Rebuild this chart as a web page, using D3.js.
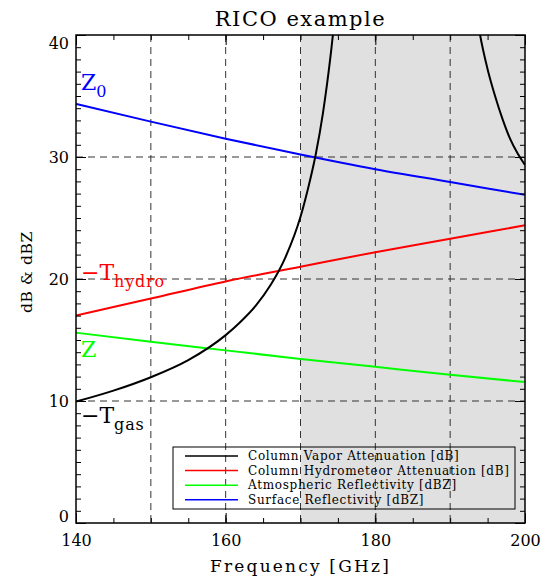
<!DOCTYPE html>
<html>
<head>
<meta charset="utf-8">
<script src="https://cdn.jsdelivr.net/npm/d3@7"></script>
<style>
  html, body { margin: 0; padding: 0; background: #fff; }
  svg { display: block; }
  text { font-family: "DejaVu Serif", serif; }
</style>
</head>
<body>
<svg id="chart" width="548" height="578"></svg>
<script>
// RICO case: column attenuation and reflectivity vs. radar frequency
const freqs = [140, 150, 160, 170, 180, 190, 200];
const surfaceReflectivity = [34.35, 32.9, 31.5, 30.2, 29.0, 27.95, 26.9];   // Z0 [dBZ]
const hydroAttenuation    = [17.0, 18.4, 19.8, 21.0, 22.2, 23.3, 24.4];     // -T_hydro [dB]
const atmosReflectivity   = [15.6, 14.85, 14.15, 13.45, 12.8, 12.15, 11.55]; // Z [dBZ]

// Column vapour attenuation, two branches around the 183 GHz water line
const vaporFreqLow  = [140, 145, 150, 155, 160, 162, 164, 166, 168, 170, 171, 172, 173, 174, 175];
const vaporAttLow   = [9.95, 10.85, 11.95, 13.35, 15.4, 16.5, 17.8, 19.5, 21.8, 25.1, 27.4, 30.1, 33.6, 38.2, 44];
const vaporFreqHigh = [192, 193, 194, 195, 196, 197, 198, 199, 200];
const vaporAttHigh  = [48, 44, 40, 37.2, 35.0, 33.1, 31.5, 30.3, 29.35];

const xTickLabels = [140, 160, 180, 200];
const yTickLabels = [0, 10, 20, 30, 40];
const xGrid = [150, 160, 170, 180, 190];
const yGrid = [10, 20, 30];
const shadedBand = [170, 200];

const legendItems = [
  { label: "Column Vapor Attenuation [dB]", color: "#000000" },
  { label: "Column Hydrometeor Attenuation [dB]", color: "#ff0000" },
  { label: "Atmospheric Reflectivity [dBZ]", color: "#00ff00" },
  { label: "Surface Reflectivity [dBZ]", color: "#0000ff" }
];

const svg = d3.select("#chart");
const L = 76, R = 525, T = 35, B = 523;

const x = d3.scaleLinear().domain([140, 200]).range([L, R]);
const y = d3.scaleLinear().domain([0, 40]).range([B, T]);

// shaded frequency band
svg.append("rect")
  .attr("x", x(shadedBand[0])).attr("y", T)
  .attr("width", x(shadedBand[1]) - x(shadedBand[0]))
  .attr("height", B - T)
  .attr("fill", "#e0e0e0");

// dashed grid
const grid = svg.append("g").attr("stroke", "#333").attr("stroke-width", 1)
  .attr("stroke-dasharray", "7,5");
grid.selectAll("line.v").data(xGrid).join("line")
  .attr("x1", d => x(d)).attr("x2", d => x(d)).attr("y1", T).attr("y2", B);
grid.selectAll("line.h").data(yGrid).join("line")
  .attr("y1", d => y(d)).attr("y2", d => y(d)).attr("x1", L).attr("x2", R);

// curves
svg.append("defs").append("clipPath").attr("id", "plotclip")
  .append("rect").attr("x", L).attr("y", T).attr("width", R - L).attr("height", B - T);

const line = d3.line().x(d => x(d[0])).y(d => y(d[1])).curve(d3.curveMonotoneX);
const curves = svg.append("g").attr("clip-path", "url(#plotclip)")
  .attr("fill", "none").attr("stroke-width", 2);

function series(xs, ys) { return xs.map((f, i) => [f, ys[i]]); }

curves.append("path").attr("d", line(series(freqs, atmosReflectivity))).attr("stroke", "#00ff00");
curves.append("path").attr("d", line(series(freqs, hydroAttenuation))).attr("stroke", "#ff0000");
curves.append("path").attr("d", line(series(freqs, surfaceReflectivity))).attr("stroke", "#0000ff");
curves.append("path").attr("d", line(series(vaporFreqLow, vaporAttLow))).attr("stroke", "#000");
curves.append("path").attr("d", line(series(vaporFreqHigh, vaporAttHigh))).attr("stroke", "#000");

// axes: minor and major ticks on all four sides
function ticks(axisFn, scale, values, size, transform) {
  const g = svg.append("g").attr("transform", transform)
    .call(axisFn(scale).tickValues(values).tickSize(size).tickFormat(""));
  g.select(".domain").remove();
  g.selectAll("line").attr("stroke", "#000").attr("stroke-width", 1);
  return g;
}
const xMinor = d3.range(140, 200.1, 5);
const yMinor = d3.range(0, 40.1, 1);
ticks(d3.axisTop, x, xMinor, 5, `translate(0,${B})`);
ticks(d3.axisBottom, x, xMinor, 5, `translate(0,${T})`);
ticks(d3.axisTop, x, xTickLabels, 10, `translate(0,${B})`);
ticks(d3.axisBottom, x, xTickLabels, 10, `translate(0,${T})`);
ticks(d3.axisRight, y, yMinor, 5, `translate(${L},0)`);
ticks(d3.axisLeft, y, yMinor, 5, `translate(${R},0)`);
ticks(d3.axisRight, y, yTickLabels, 10, `translate(${L},0)`);
ticks(d3.axisLeft, y, yTickLabels, 10, `translate(${R},0)`);

// frame
svg.append("rect").attr("x", L).attr("y", T).attr("width", R - L).attr("height", B - T)
  .attr("fill", "none").attr("stroke", "#000").attr("stroke-width", 1.5);

// tick labels
const xAxis = svg.append("g").attr("transform", `translate(0,${B})`)
  .call(d3.axisBottom(x).tickValues(xTickLabels).tickSize(0).tickPadding(12).tickFormat(d3.format("d")));
xAxis.select(".domain").remove();
xAxis.selectAll("text").attr("font-family", "DejaVu Serif").attr("font-size", 16).attr("fill", "#000");

const yAxis = svg.append("g").attr("transform", `translate(${L},0)`)
  .call(d3.axisLeft(y).tickValues(yTickLabels).tickSize(0).tickPadding(7).tickFormat(d3.format("d")));
yAxis.select(".domain").remove();
yAxis.selectAll("text").attr("font-family", "DejaVu Serif").attr("font-size", 16).attr("fill", "#000")
  .attr("dy", d => d === 40 ? "0.85em" : d === 0 ? "-0.1em" : "0.35em");

// titles
svg.append("text").attr("x", (L + R) / 2).attr("y", 26).attr("text-anchor", "middle")
  .attr("font-size", 21).attr("letter-spacing", 1.5).text("RICO example");
svg.append("text").attr("x", (L + R) / 2).attr("y", 572).attr("text-anchor", "middle")
  .attr("font-size", 17).attr("letter-spacing", 2.2).text("Frequency [GHz]");
svg.append("text").attr("transform", "translate(32,272) rotate(-90)")
  .attr("text-anchor", "middle").attr("font-size", 15.5).attr("letter-spacing", 0.6).text("dB & dBZ");

// in-plot annotations
function annot(px, py, main, sub, color) {
  const t = svg.append("text").attr("x", px).attr("y", py).attr("fill", color).attr("font-size", 22);
  t.append("tspan").text(main);
  if (sub) t.append("tspan").attr("font-size", 16).attr("dy", 7).attr("letter-spacing", 0.8).text(sub);
}
annot(81, 90, "Z", "0", "#0000ff");
annot(81, 280, "\u2212T", "hydro", "#ff0000");
annot(81, 357, "Z", null, "#00ff00");
annot(81, 423, "\u2212T", "gas", "#000");

// legend
const lg = svg.append("g");
lg.append("rect").attr("x", 173).attr("y", 447).attr("width", 342).attr("height", 62)
  .attr("fill", "none").attr("stroke", "#000").attr("stroke-width", 1);
const rows = lg.selectAll("g.item").data(legendItems).join("g")
  .attr("transform", (d, i) => `translate(0,${456 + i * 14.6})`);
rows.append("line").attr("x1", 185).attr("x2", 238).attr("stroke", d => d.color).attr("stroke-width", 1.5);
rows.append("text").attr("x", 248).attr("y", 4).attr("font-size", 12).attr("letter-spacing", 0.7)
  .attr("fill", "#000").text(d => d.label);
</script>
</body>
</html>
